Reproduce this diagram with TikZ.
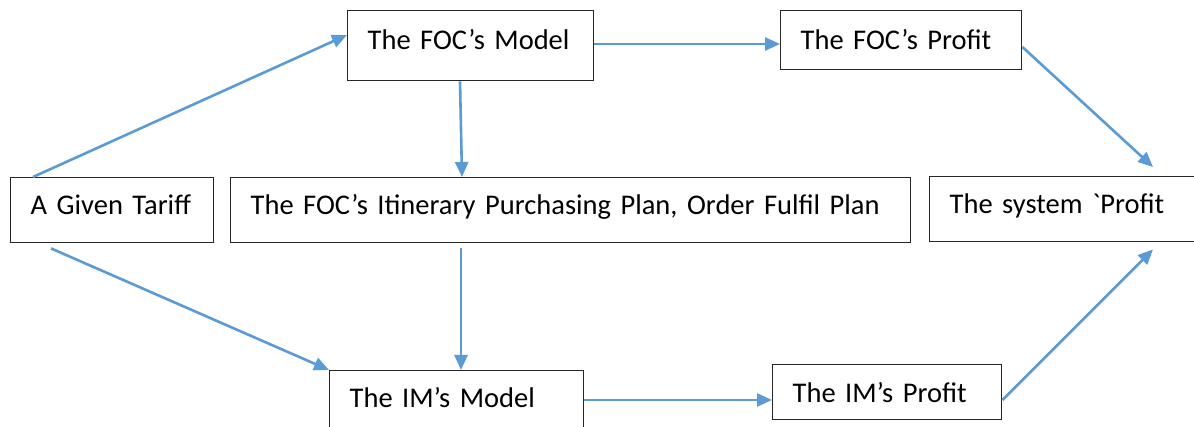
\documentclass[tikz,border=0pt]{standalone}
\usepackage{fontspec}
\setmainfont{Carlito}[Ligatures=TeXOff]
\usetikzlibrary{arrows.meta,calc}
\definecolor{flowblue}{RGB}{91,155,213}
\tikzset{
  box/.style={draw=black!85, line width=1.4pt, anchor=north west, align=left,
    inner xsep=20pt, inner ysep=0pt, text height=20pt, text depth=12pt,
    font=\fontsize{28.5}{32}\selectfont},
  midbox/.style={box, text height=22pt, text depth=4pt},
  lowbox/.style={box, text height=24pt, text depth=3pt},
  flow/.style={draw=flowblue, line width=2.6pt,
    -{Triangle[length=15pt,width=13pt]}},
}
\begin{document}
\begin{tikzpicture}[x=1pt,y=-1pt]
\useasboundingbox (0,0) rectangle (1194,427);
\clip (0,0) rectangle (1194,427);
\fill[white] (0,0) rectangle (1194,427);

% boxes: (left,top); text width is the box width less 40
\node[box, text width=163, minimum height=65] (tariff) at (10,177) {A Given Tariff};
\node[box, text width=640, minimum height=65] (plan) at (230,177) {The FOC’s Itinerary Purchasing Plan, Order Fulfil Plan};
\node[box, text width=206, minimum height=70] (focm) at (347,10) {The FOC’s Model};
\node[midbox, text width=201, minimum height=59] (focp) at (780,10) {The FOC’s Profit};
\node[box, text width=240, minimum height=65] (sysp) at (929,176) {The system `Profit};
\node[box, text width=214, minimum height=66] (imm) at (329,370) {The IM’s Model};
\node[lowbox, text width=189, minimum height=55] (imp) at (772,364) {The IM’s Profit};

% points where the connectors leave or reach the boxes
\coordinate (tariffTop) at ($(tariff.north west)+(23,0)$);
\coordinate (tariffLow) at ($(tariff.south west)+(41,5)$);
\coordinate (sysUp) at ($(sysp.north west)+(224,-9)$);
\coordinate (sysDown) at ($(sysp.south west)+(224,7)$);

\draw[flow] (tariffTop) -- ($(focm.north west)+(0,25)$);
\draw[flow] (focm.east |- 0,44) -- (focp.west |- 0,44);
\draw[flow] ($(focm.south west)+(113,0)$) -- ($(plan.north west)+(232,0)$);
\draw[flow] ($(focp.north east)+(0,37)$) -- (sysUp);
\draw[flow] ($(plan.south west)+(231,5)$) -- ($(imm.north west)+(132,0)$);
\draw[flow] (tariffLow) -- (imm.north west);
\draw[flow] (imm.east |- 0,400) -- (imp.west |- 0,400);
\draw[flow] (imp.east |- 0,400) -- (sysDown);
\end{tikzpicture}
\end{document}
